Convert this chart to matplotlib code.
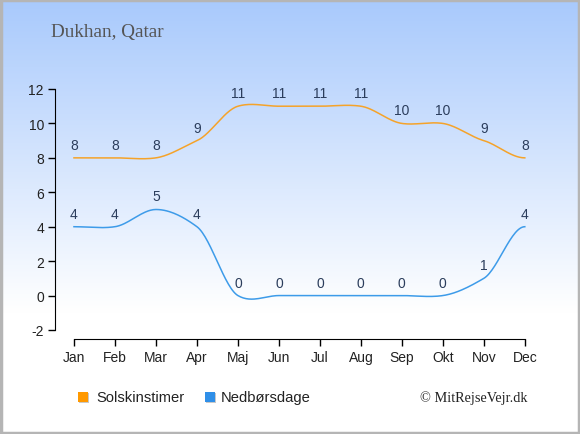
import numpy as np
import matplotlib.pyplot as plt
from matplotlib.patches import Rectangle

plt.rcParams["axes.unicode_minus"] = False

# ---------------------------
# Data
# ---------------------------
months = ["Jan", "Feb", "Mar", "Apr", "Maj", "Jun",
          "Jul", "Aug", "Sep", "Okt", "Nov", "Dec"]
sun_hours = [8, 8, 8, 9, 11, 11, 11, 11, 10, 10, 9, 8]
rain_days = [4, 4, 5, 4, 0, 0, 0, 0, 0, 0, 1, 4]

title = "Dukhan, Qatar"
sun_label = "Solskinstimer"
rain_label = "Nedbørsdage"
credit = "© MitRejseVejr.dk"

sun_color = "#f5a32a"
rain_color = "#3d9be9"
label_color = "#2b3d5c"

W, H = 580, 435


def smooth(xs, ys, n=30, k=0.7):
    """Cardinal (Catmull-Rom like) spline through the points."""
    xs = np.asarray(xs, float)
    ys = np.asarray(ys, float)
    m = np.zeros_like(ys)
    m[1:-1] = (ys[2:] - ys[:-2]) / 2 * k
    out_x, out_y = [], []
    for i in range(len(xs) - 1):
        t = np.linspace(0, 1, n, endpoint=False)
        h00 = 2 * t**3 - 3 * t**2 + 1
        h10 = t**3 - 2 * t**2 + t
        h01 = -2 * t**3 + 3 * t**2
        h11 = t**3 - t**2
        out_y.append(h00 * ys[i] + h10 * m[i] + h01 * ys[i + 1] + h11 * m[i + 1])
        out_x.append(xs[i] + t * (xs[i + 1] - xs[i]))
    out_x.append([xs[-1]])
    out_y.append([ys[-1]])
    return np.concatenate(out_x), np.concatenate(out_y)


fig = plt.figure(figsize=(5.8, 4.35), dpi=100)

# background gradient + border, in pixel-like coordinates
bg = fig.add_axes([0, 0, 1, 1], zorder=-10)
grad = np.linspace(0, 1, 256).reshape(-1, 1)
top = np.array([0.66, 0.79, 0.99])
white = np.array([1.0, 1.0, 1.0])
frac = np.clip(grad / 0.72, 0, 1)
img = top + (white - top) * frac
bg.imshow(img.reshape(256, 1, 3), aspect="auto", extent=[0, W, H, 0])
bg.set_xlim(0, W)
bg.set_ylim(H, 0)
bg.axis("off")
bg.add_patch(Rectangle((0.5, 0.5), W - 1.5, H - 1.5, fill=False,
                       edgecolor="#b5b5b5", linewidth=2.5))

# legend squares, drawn by hand
for x0, c in [(78, "#ff9900"), (205, "#2f8fe8")]:
    bg.add_patch(Rectangle((x0 + 1, 394), 10, 10, color="#c8c8c8", lw=0))
    bg.add_patch(Rectangle((x0, 393), 10, 10, color=c, lw=0))
bg.text(96, 398, sun_label, fontsize=10.6, color="#222222",
        family="Liberation Sans", va="center", ha="left")
bg.text(221, 398, rain_label, fontsize=10.6, color="#222222",
        family="Liberation Sans", va="center", ha="left")
bg.text(527, 398, credit, fontsize=10.3, color="#222222",
        family="Liberation Serif", va="center", ha="right")
bg.text(51, 32, title, fontsize=13.8, color="#555555",
        family="Liberation Serif", va="center", ha="left")

ax = fig.add_axes([55 / W, (H - 339.6) / H, 478 / W, 0.5738])
ax.set_facecolor("none")

x = np.arange(len(months))
sx, sy = smooth(x, sun_hours)
rx, ry = smooth(x, rain_days)
ax.plot(sx, sy, color=sun_color, linewidth=1.1)
ax.plot(rx, ry, color=rain_color, linewidth=1.1)

for series in (sun_hours, rain_days):
    for xi, v in zip(x, series):
        ax.annotate(str(v), (xi, v), xytext=(0, 6.5), textcoords="offset points",
                    ha="center", va="baseline", fontsize=10,
                    color=label_color, family="Liberation Sans")

ax.set_xlim(-0.463, 11.2)
ax.set_ylim(-2.5, 12)
ax.set_yticks(range(-2, 13, 2))
ax.set_xticks(x)
ax.set_xticklabels(months)
for s in ["top", "right"]:
    ax.spines[s].set_visible(False)
ax.spines["left"].set_bounds(-2, 12)
ax.spines["bottom"].set_bounds(0, 11)
ax.tick_params(direction="out", length=5, width=1, labelsize=10,
               colors="black", pad=3)
for lab in ax.get_xticklabels() + ax.get_yticklabels():
    lab.set_family("Liberation Sans")
    lab.set_color("#222222")

fig.savefig("out.png", dpi=100)
